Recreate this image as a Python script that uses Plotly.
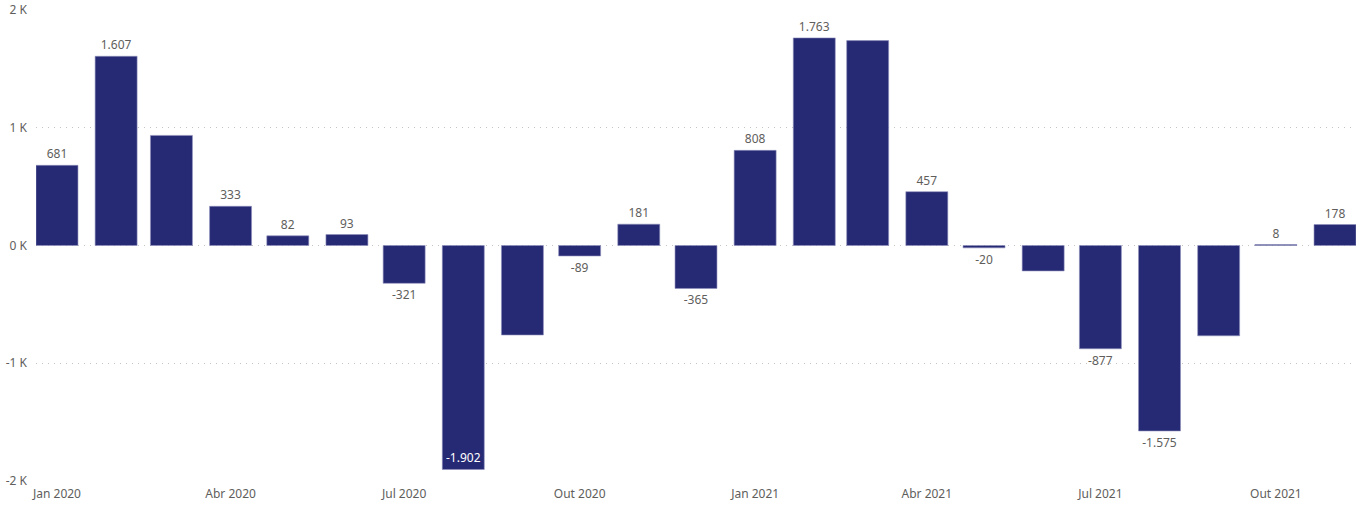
import plotly.graph_objects as go

# --------------------
# Data (monthly values, Jan 2020 .. Nov 2021)
# --------------------
months = [
    "2020-01-01", "2020-02-01", "2020-03-01", "2020-04-01", "2020-05-01", "2020-06-01",
    "2020-07-01", "2020-08-01", "2020-09-01", "2020-10-01", "2020-11-01", "2020-12-01",
    "2021-01-01", "2021-02-01", "2021-03-01", "2021-04-01", "2021-05-01", "2021-06-01",
    "2021-07-01", "2021-08-01", "2021-09-01", "2021-10-01", "2021-11-01",
]
values = [
    681, 1607, 935, 333, 82, 93,
    -321, -1902, -760, -89, 181, -365,
    808, 1763, 1740, 457, -20, -216,
    -877, -1575, -767, 8, 178,
]
# which bars show a data label in the original
label_shown = [
    True, True, False, True, True, True,
    True, True, False, True, True, True,
    True, True, False, True, True, False,
    True, True, False, True, True,
]

tick_dates = ["2020-01-01", "2020-04-01", "2020-07-01", "2020-10-01",
              "2021-01-01", "2021-04-01", "2021-07-01", "2021-10-01"]
tick_labels = ["Jan 2020", "Abr 2020", "Jul 2020", "Out 2020",
               "Jan 2021", "Abr 2021", "Jul 2021", "Out 2021"]

y_ticks = [-2000, -1000, 0, 1000, 2000]
y_tick_labels = ["-2 K", "-1 K", "0 K", "1 K", "2 K"]

# --------------------
# Labels (pt-BR thousands separator)
# --------------------
texts = [f"{v:,}".replace(",", ".") if s else "" for v, s in zip(values, label_shown)]
# the deepest bar has no room below, so its label goes inside
positions = ["inside" if v <= -1800 else "outside" for v in values]

bar_color = "#262973"
gray = "#605e5c"
font_family = "Segoe UI, Noto Sans, sans-serif"
day_ms = 86400000

fig = go.Figure(
    go.Bar(
        x=months,
        y=values,
        width=22 * day_ms,
        marker=dict(color=bar_color, line=dict(color="#8f91bd", width=0.6)),
        text=texts,
        textposition=positions,
        insidetextanchor="end",
        textangle=0,
        constraintext="none",
        cliponaxis=False,
        insidetextfont=dict(color="white", size=12, family=font_family),
        outsidetextfont=dict(color=gray, size=12, family=font_family),
        hoverinfo="skip",
    )
)

fig.update_layout(
    width=1365,
    height=505,
    margin=dict(l=36, r=9, t=10, b=24, autoexpand=False),
    paper_bgcolor="white",
    plot_bgcolor="white",
    showlegend=False,
    font=dict(family=font_family, size=12, color=gray),
    xaxis=dict(
        type="date",
        range=["2019-12-21", "2021-11-12"],
        tickvals=tick_dates,
        ticktext=tick_labels,
        showgrid=False,
        zeroline=False,
        showline=False,
        ticks="",
        automargin=False,
        ticklabelstandoff=4,
        tickfont=dict(size=12, color=gray),
    ),
    yaxis=dict(
        range=[-2000, 2000],
        tickvals=y_ticks,
        ticktext=y_tick_labels,
        showgrid=True,
        gridcolor="#c4c4c4",
        griddash="1px,5px",
        gridwidth=1,
        zeroline=False,
        showline=False,
        ticks="",
        automargin=False,
        ticklabelstandoff=8,
        tickfont=dict(size=12, color=gray),
    ),
)

fig.write_html(
    "out.html",
    config={"displayModeBar": False},
    post_script="document.body.style.margin='0';",
)
